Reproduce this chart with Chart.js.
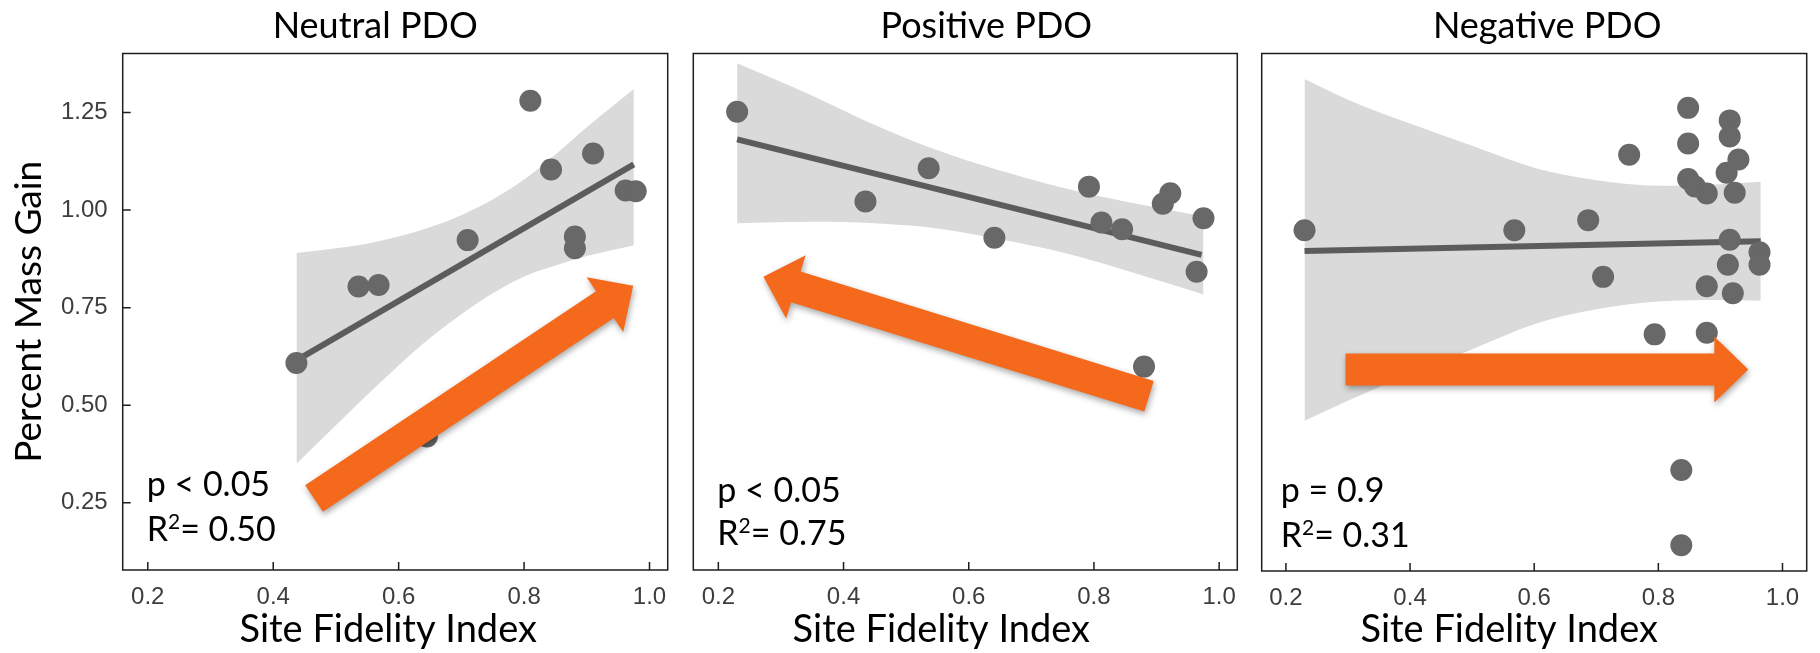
<!DOCTYPE html>
<html>
<head>
<meta charset="utf-8">
<title>Site fidelity vs. mass gain by PDO phase</title>
<script src="https://cdn.jsdelivr.net/npm/chart.js@4.4.1/dist/chart.umd.min.js"></script>
<style>
  html, body { margin: 0; padding: 0; background: #ffffff; }
  #wrap { position: relative; width: 1820px; height: 653px; overflow: hidden; background: #ffffff; }
  .panel { position: absolute; top: 0; height: 653px; }
  canvas { display: block; }
</style>
</head>
<body>
<div id="wrap">
  <div class="panel" style="left:0px;width:680px"><canvas id="c0" width="680" height="653"></canvas></div>
  <div class="panel" style="left:680px;width:570px"><canvas id="c1" width="570" height="653"></canvas></div>
  <div class="panel" style="left:1250px;width:570px"><canvas id="c2" width="570" height="653"></canvas></div>
</div>
<script>
// ---- labels and ticks ----
const panelTitles = ['Neutral PDO', 'Positive PDO', 'Negative PDO'];
const xAxisTitle = 'Site Fidelity Index';
const yAxisTitle = 'Percent Mass Gain';
const xTickValues = [0.2, 0.4, 0.6, 0.8, 1.0];
const yTickValues = [0.25, 0.50, 0.75, 1.00, 1.25];

// ---- Neutral PDO ----
const neutralFidelity = [0.437, 0.536, 0.568, 0.645, 0.710, 0.810, 0.843, 0.881, 0.881, 0.910, 0.962, 0.978];
const neutralMassGain = [0.608, 0.804, 0.808, 0.420, 0.923, 1.280, 1.104, 0.932, 0.902, 1.145, 1.050, 1.048];
const neutralFitX = [0.437, 0.975];
const neutralFitY = [0.615, 1.117];
const neutralBandX    = [0.437, 0.50, 0.55, 0.60, 0.65, 0.70, 0.75, 0.80, 0.85, 0.90, 0.975];
const neutralBandLow  = [0.350, 0.449, 0.527, 0.602, 0.672, 0.733, 0.787, 0.830, 0.858, 0.882, 0.909];
const neutralBandHigh = [0.890, 0.902, 0.914, 0.932, 0.956, 0.987, 1.027, 1.078, 1.142, 1.212, 1.310];
const neutralP = 'p < 0.05';
const neutralR2 = '0.50';

// ---- Positive PDO ----
const positiveFidelity = [0.230, 0.435, 0.536, 0.641, 0.792, 0.812, 0.845, 0.880, 0.910, 0.922, 0.964, 0.975];
const positiveMassGain = [1.252, 1.022, 1.107, 0.929, 1.060, 0.968, 0.951, 0.599, 1.016, 1.043, 0.842, 0.979];
const positiveFitX = [0.230, 0.972];
const positiveFitY = [1.181, 0.885];
const positiveBandX    = [0.230, 0.35, 0.45, 0.55, 0.65, 0.75, 0.85, 0.975];
const positiveBandLow  = [0.966, 0.970, 0.966, 0.953, 0.925, 0.891, 0.846, 0.784];
const positiveBandHigh = [1.376, 1.293, 1.218, 1.153, 1.101, 1.057, 1.022, 0.984];
const positiveP = 'p < 0.05';
const positiveR2 = '0.75';

// ---- Negative PDO ----
const negativeFidelity = [0.230, 0.568, 0.687, 0.711, 0.753, 0.794, 0.837, 0.837, 0.848, 0.848, 0.848,
                          0.859, 0.878, 0.878, 0.878, 0.910, 0.912, 0.915, 0.915, 0.915, 0.920, 0.923,
                          0.929, 0.963, 0.963];
const negativeMassGain = [0.949, 0.949, 0.975, 0.830, 1.142, 0.683, 0.336, 0.144, 1.262, 1.171, 1.080,
                          1.061, 1.043, 0.806, 0.687, 1.096, 0.861, 1.230, 1.189, 0.925, 0.788, 1.045,
                          1.130, 0.893, 0.861];
const negativeFitX = [0.230, 0.965];
const negativeFitY = [0.896, 0.921];
const negativeBandX    = [0.230, 0.30, 0.40, 0.50, 0.60, 0.70, 0.80, 0.90, 0.965];
const negativeBandLow  = [0.462, 0.513, 0.582, 0.645, 0.709, 0.747, 0.767, 0.771, 0.769];
const negativeBandHigh = [1.336, 1.283, 1.222, 1.165, 1.109, 1.077, 1.063, 1.067, 1.073];
const negativeP = 'p = 0.9';
const negativeR2 = '0.31';

// ---- trend arrows, in data units (start -> tip) ----
const trendArrows = [
  [[0.465, 0.261], [0.974, 0.806]],
  [[0.888, 0.523], [0.272, 0.829]],
  [[0.296, 0.593], [0.945, 0.593]]
];

// ---- styling ----
const BAND_COLOR = '#dadada';
const FIT_COLOR = '#5c5c5c';
const POINT_COLOR = '#686868';
const ARROW_COLOR = '#f5691c';
const FRAME_COLOR = '#1e1e1e';
const TICK_COLOR = '#3d3d3d';
const TEXT_FONT = 'Lato, "Open Sans", sans-serif';
const TICK_FONT = '"Liberation Sans", Arial, sans-serif';

const zip = (xs, ys) => xs.map((v, i) => ({ x: v, y: ys[i] }));

const panels = [
  { title: panelTitles[0], x: neutralFidelity, y: neutralMassGain, fitX: neutralFitX, fitY: neutralFitY,
    bandX: neutralBandX, bandLow: neutralBandLow, bandHigh: neutralBandHigh, p: neutralP, r2: neutralR2 },
  { title: panelTitles[1], x: positiveFidelity, y: positiveMassGain, fitX: positiveFitX, fitY: positiveFitY,
    bandX: positiveBandX, bandLow: positiveBandLow, bandHigh: positiveBandHigh, p: positiveP, r2: positiveR2 },
  { title: panelTitles[2], x: negativeFidelity, y: negativeMassGain, fitX: negativeFitX, fitY: negativeFitY,
    bandX: negativeBandX, bandLow: negativeBandLow, bandHigh: negativeBandHigh, p: negativeP, r2: negativeR2 }
];

// per-panel frame placement inside each canvas
const layouts = [
  { padLeft: 0,    padRight: 12.3, axisW: 122.7, xAxisH: 83, xMin: 0.160, xMax: 1.029,
    titleDx: -20, xTitleDx: -7,  statsDx: 24, pDy: -74, rDy: -29, showY: true },
  { padLeft: 13.3, padRight: 12.7, axisW: 0,     xAxisH: 83, xMin: 0.160, xMax: 1.029,
    titleDx: 21,  xTitleDx: -24, statsDx: 24, pDy: -68, rDy: -25, showY: false },
  { padLeft: 11.7, padRight: 13.3, axisW: 0,     xAxisH: 82, xMin: 0.161, xMax: 1.039,
    titleDx: 13,  xTitleDx: -25, statsDx: 19, pDy: -69, rDy: -24, showY: false }
];

function drawArrow(ctx, x0, y0, x1, y1) {
  const SHAFT = 32, HEAD_W = 66, HEAD_L = 34;
  const dx = x1 - x0, dy = y1 - y0, len = Math.hypot(dx, dy);
  const ux = dx / len, uy = dy / len, nx = -uy, ny = ux;
  const hs = SHAFT / 2, hh = HEAD_W / 2;
  const bx = x1 - ux * HEAD_L, by = y1 - uy * HEAD_L;
  ctx.beginPath();
  ctx.moveTo(x0 + nx * hs, y0 + ny * hs);
  ctx.lineTo(bx + nx * hs, by + ny * hs);
  ctx.lineTo(bx + nx * hh, by + ny * hh);
  ctx.lineTo(x1, y1);
  ctx.lineTo(bx - nx * hh, by - ny * hh);
  ctx.lineTo(bx - nx * hs, by - ny * hs);
  ctx.lineTo(x0 - nx * hs, y0 - ny * hs);
  ctx.closePath();
  ctx.fill();
}

// frame, inward ticks, trend arrow and the text annotations of a panel
const panelDecor = {
  id: 'panelDecor',
  afterDraw(chart, args, o) {
    const { ctx, chartArea: a } = chart;
    const sx = chart.scales.x, sy = chart.scales.y;
    ctx.save();

    // box around the plotting area
    ctx.strokeStyle = FRAME_COLOR;
    ctx.lineWidth = 1.5;
    ctx.strokeRect(a.left, a.top, a.right - a.left, a.bottom - a.top);

    // tick marks pointing into the plot
    ctx.beginPath();
    sx.ticks.forEach(t => {
      const px = sx.getPixelForValue(t.value);
      ctx.moveTo(px, a.bottom); ctx.lineTo(px, a.bottom - 8);
    });
    if (o.showY) {
      sy.ticks.forEach(t => {
        const py = sy.getPixelForValue(t.value);
        ctx.moveTo(a.left, py); ctx.lineTo(a.left + 8, py);
      });
    }
    ctx.stroke();

    // trend arrow
    const [from, to] = o.arrow;
    ctx.fillStyle = ARROW_COLOR;
    ctx.shadowColor = 'rgba(0,0,0,0.35)';
    ctx.shadowBlur = 6;
    ctx.shadowOffsetX = 1;
    ctx.shadowOffsetY = 3;
    drawArrow(ctx, sx.getPixelForValue(from[0]), sy.getPixelForValue(from[1]),
                   sx.getPixelForValue(to[0]), sy.getPixelForValue(to[1]));
    ctx.shadowColor = 'transparent';
    ctx.shadowBlur = 0;
    ctx.shadowOffsetX = 0;
    ctx.shadowOffsetY = 0;

    // panel title and x-axis title
    const cx = (a.left + a.right) / 2;
    ctx.fillStyle = '#000';
    ctx.textAlign = 'center';
    ctx.textBaseline = 'alphabetic';
    ctx.font = '36px ' + TEXT_FONT;
    ctx.fillText(o.title, cx + o.titleDx, 38);
    ctx.font = '38px ' + TEXT_FONT;
    ctx.fillText(xAxisTitle, cx + o.xTitleDx, 642);

    // regression statistics
    ctx.textAlign = 'left';
    const sx0 = a.left + o.statsDx;
    ctx.font = '34px ' + TEXT_FONT;
    ctx.fillText(o.p, sx0, a.bottom + o.pDy);
    const yb = a.bottom + o.rDy;
    let xx = sx0;
    ctx.fillText('R', xx, yb);
    xx += ctx.measureText('R').width;
    ctx.font = '21px ' + TEXT_FONT;
    ctx.fillText('2', xx, yb - 12);
    xx += ctx.measureText('2').width;
    ctx.font = '34px ' + TEXT_FONT;
    ctx.fillText('= ' + o.r2, xx, yb);

    ctx.restore();
  }
};

function buildPanel(i) {
  const P = panels[i], L = layouts[i];
  return new Chart(document.getElementById('c' + i), {
    type: 'scatter',
    data: {
      datasets: [
        { label: 'band-high', data: zip(P.bandX, P.bandHigh), showLine: true, fill: '+1',
          backgroundColor: BAND_COLOR, borderColor: 'transparent', borderWidth: 0,
          pointRadius: 0, cubicInterpolationMode: 'monotone', order: 3 },
        { label: 'band-low', data: zip(P.bandX, P.bandLow), showLine: true, fill: false,
          borderColor: 'transparent', borderWidth: 0, pointRadius: 0,
          cubicInterpolationMode: 'monotone', order: 3 },
        { label: 'fit', data: zip(P.fitX, P.fitY), showLine: true, fill: false,
          borderColor: FIT_COLOR, borderWidth: 6, pointRadius: 0, order: 2 },
        { label: 'obs', data: zip(P.x, P.y), showLine: false,
          pointRadius: 11, pointBackgroundColor: POINT_COLOR, pointBorderWidth: 0,
          pointBorderColor: POINT_COLOR, order: 1 }
      ]
    },
    options: {
      responsive: false,
      animation: false,
      devicePixelRatio: 1,
      layout: { padding: { left: L.padLeft, right: L.padRight, top: 53.5, bottom: 0 } },
      plugins: {
        legend: { display: false },
        tooltip: { enabled: false },
        title: { display: false },
        panelDecor: {
          title: P.title, p: P.p, r2: P.r2, arrow: trendArrows[i],
          titleDx: L.titleDx, xTitleDx: L.xTitleDx, statsDx: L.statsDx,
          pDy: L.pDy, rDy: L.rDy, showY: L.showY
        }
      },
      scales: {
        x: {
          type: 'linear', min: L.xMin, max: L.xMax,
          afterBuildTicks: s => { s.ticks = xTickValues.map(v => ({ value: v })); },
          afterFit: s => { s.height = L.xAxisH; },
          grid: { display: false },
          border: { display: false },
          ticks: { padding: 5, color: TICK_COLOR, font: { family: TICK_FONT, size: 24 },
                   maxRotation: 0, callback: v => Number(v).toFixed(1) }
        },
        y: {
          type: 'linear', min: 0.078, max: 1.401,
          display: L.showY,
          afterBuildTicks: s => { s.ticks = yTickValues.map(v => ({ value: v })); },
          afterFit: s => { s.width = L.axisW; },
          grid: { display: false },
          border: { display: false },
          ticks: { padding: 7, color: TICK_COLOR, font: { family: TICK_FONT, size: 24 },
                   callback: v => Number(v).toFixed(2) },
          title: { display: true, text: yAxisTitle, color: '#000',
                   font: { family: TEXT_FONT, size: 37 }, padding: { top: 7, bottom: 0 } }
        }
      }
    },
    plugins: [panelDecor]
  });
}

[0, 1, 2].forEach(buildPanel);
</script>
</body>
</html>
